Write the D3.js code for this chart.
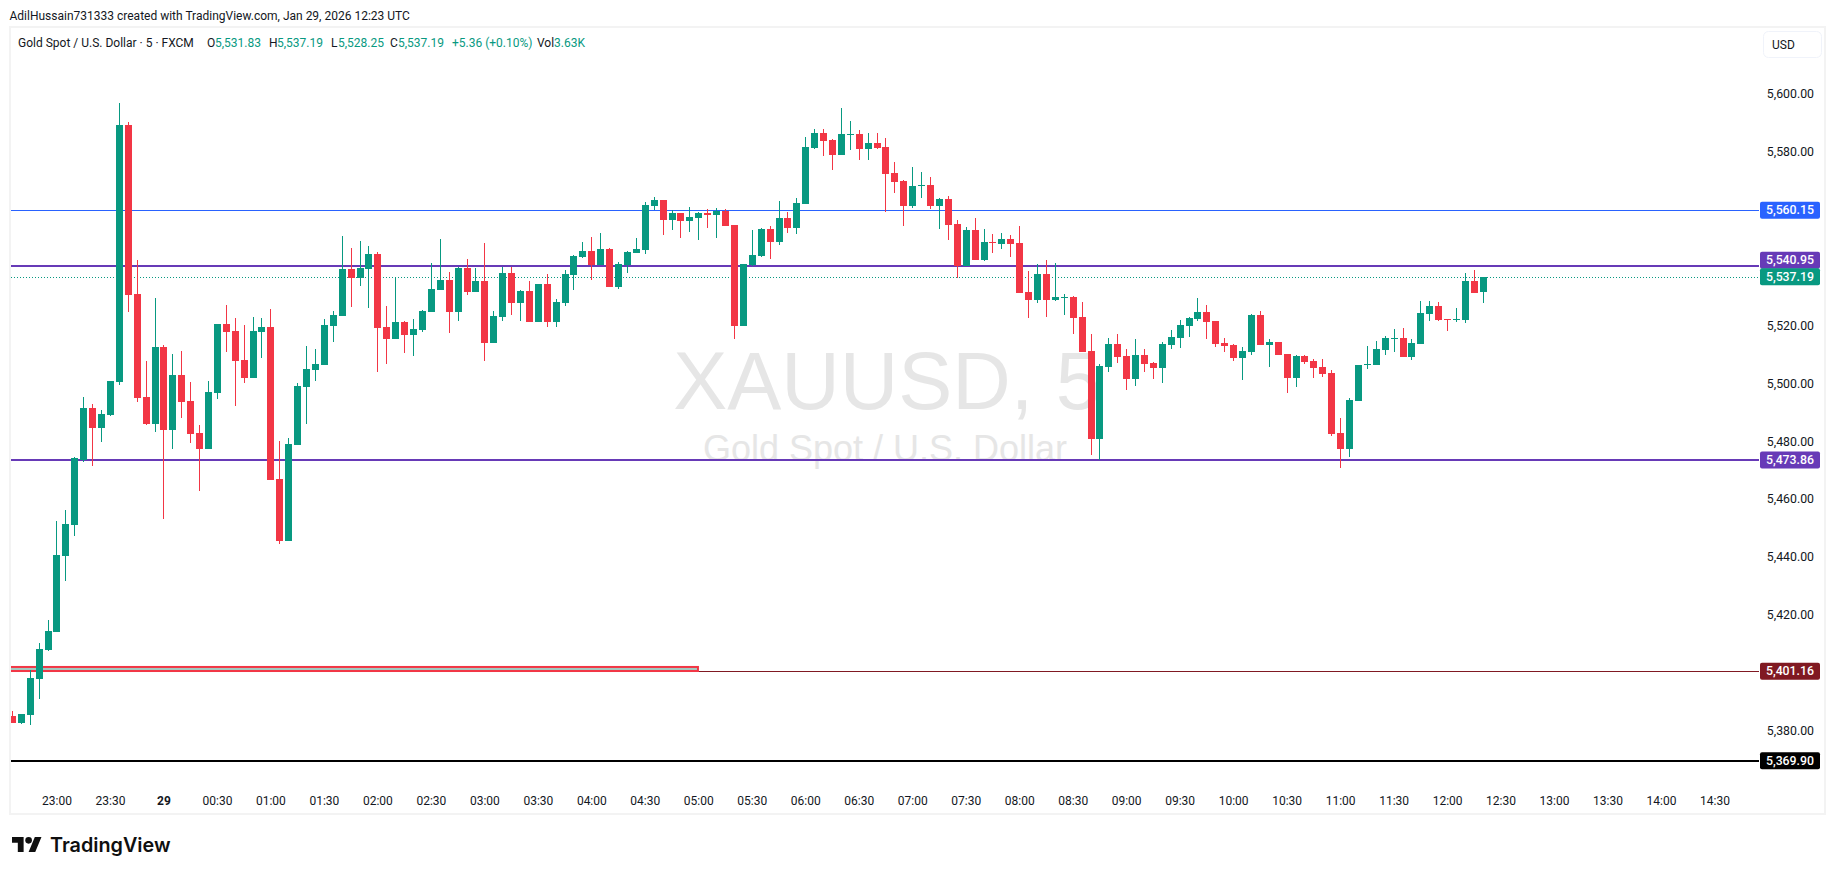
<!DOCTYPE html>
<html>
<head>
<meta charset="utf-8">
<title>XAUUSD, 5</title>
<script src="https://cdn.jsdelivr.net/npm/d3@7"></script>
<style>
  html, body { margin: 0; padding: 0; background: #fff; overflow: hidden; }
  text { font-family: Roboto, sans-serif; }
</style>
</head>
<body>
<svg id="chart" width="1835" height="875"></svg>
<script>
// Data
// ============================================================================

const opens = [
  5385.35,5382.93,5385.69,5398.14,5408.16,5414.38,5440.65,5451.37,5473.84,5491.81,
  5484.9,5489.39,5500.8,5589.63,5531.22,5495.61,5486.28,5512.9,5484.21,5503.22,
  5494.23,5483.17,5477.64,5496.99,5520.85,5518.43,5508.4,5502.18,5518.08,5519.81,
  5467.27,5445.84,5479.02,5499.07,5504.95,5506.67,5520.15,5523.61,5539.85,5536.74,
  5539.85,5545.04,5519.8,5515.66,5521.53,5517.04,5518.77,5524.99,5532.6,5536.05,
  5524.99,5540.2,5531.9,5535.7,5514.27,5523.26,5538.47,5528.1,5532.25,5521.53,
  5534.67,5521.53,5528.1,5537.78,5544.0,5546.07,5541.24,5546.77,5533.63,5541.24,
  5545.38,5546.42,5561.63,5563.7,5556.79,5559.21,5556.44,5557.48,5559.21,5558.52,
  5559.9,5555.06,5520.15,5541.24,5544.35,5553.68,5549.19,5557.48,5554.03,5562.32,
  5581.68,5586.87,5584.45,5579.26,5586.18,5586.52,5581.34,5583.41,5582.0,5573.04,
  5570.28,5561.63,5568.55,5568.89,5561.63,5564.05,5555.41,5540.89,5553.34,5542.97,
  5549.19,5548.5,5550.23,5548.84,5531.91,5529.14,5538.13,5529.14,5529.83,5530.18,
  5523.26,5511.51,5481.09,5505.98,5513.93,5509.78,5501.83,5510.13,5507.36,5505.64,
  5513.59,5516.0,5520.15,5522.57,5525.0,5521.88,5514.28,5513.59,5509.09,5511.17,
  5523.96,5513.59,5514.62,5510.48,5502.18,5509.78,5508.06,5506.0,5503.91,5483.17,
  5477.64,5494.23,5506.68,5506.68,5511.86,5515.66,5516.01,5509.44,5513.93,5524.3,
  5527.07,5522.58,5522.23,5522.23,5535.71,5531.83
];
const highs = [
  5387.08,5386.04,5401.25,5410.58,5418.53,5452.75,5456.55,5474.9,5495.61,5493.19,
  5491.12,5501.14,5597.24,5590.67,5543.0,5508.06,5529.83,5513.59,5510.48,5511.51,
  5500.8,5485.93,5501.14,5520.85,5527.41,5522.92,5520.5,5523.26,5522.92,5526.03,
  5480.4,5481.44,5500.45,5513.24,5512.2,5522.57,5525.33,5551.26,5547.11,5549.53,
  5547.8,5545.73,5527.06,5536.74,5521.88,5522.57,5525.68,5541.93,5550.22,5538.82,
  5540.54,5543.31,5540.2,5548.84,5525.33,5540.54,5540.54,5532.6,5535.7,5534.67,
  5538.12,5529.48,5539.51,5544.69,5549.19,5550.91,5552.3,5547.11,5542.27,5546.07,
  5550.57,5563.01,5564.74,5563.7,5560.25,5559.21,5561.28,5559.56,5560.6,5560.94,
  5560.6,5555.06,5541.58,5553.33,5554.03,5554.72,5563.36,5559.56,5564.39,5585.48,
  5588.25,5588.25,5584.8,5595.5,5591.01,5587.9,5586.87,5586.87,5585.14,5576.84,
  5570.62,5575.12,5573.39,5571.66,5564.4,5565.09,5556.79,5554.38,5557.48,5553.68,
  5551.95,5552.3,5551.61,5554.72,5539.17,5541.58,5542.97,5541.93,5531.21,5530.52,
  5528.45,5517.39,5507.02,5516.0,5517.39,5512.2,5515.66,5512.2,5507.71,5514.62,
  5518.77,5522.23,5523.26,5529.83,5527.41,5521.88,5516.0,5513.93,5512.89,5524.3,
  5525.34,5515.66,5514.62,5510.48,5510.13,5510.13,5508.75,5508.75,5504.95,5488.35,
  5495.27,5506.68,5513.24,5514.97,5516.7,5519.12,5519.47,5515.66,5528.8,5528.8,
  5528.45,5522.58,5526.38,5538.48,5539.51,5537.19
];
const lows = [
  5382.93,5382.58,5382.24,5391.22,5407.82,5414.38,5432.01,5447.57,5473.15,5471.76,
  5480.06,5489.05,5499.76,5524.99,5493.89,5485.93,5483.51,5453.44,5477.64,5488.35,
  5479.71,5463.12,5477.64,5494.92,5511.17,5492.5,5500.45,5502.18,5509.09,5466.92,
  5444.8,5445.84,5479.02,5486.28,5501.14,5506.67,5514.62,5523.61,5526.72,5533.98,
  5526.37,5504.25,5507.01,5515.66,5510.82,5509.78,5518.07,5524.99,5532.6,5517.73,
  5521.88,5530.87,5531.9,5508.05,5514.27,5521.88,5523.95,5521.88,5521.53,5521.53,
  5519.8,5519.8,5527.06,5532.6,5543.66,5536.05,5541.24,5533.63,5532.94,5538.47,
  5545.38,5545.04,5560.25,5551.6,5553.33,5550.57,5552.64,5549.88,5554.03,5550.57,
  5554.72,5515.66,5520.15,5540.89,5544.0,5543.31,5548.15,5552.3,5551.95,5562.32,
  5581.34,5578.92,5574.08,5579.26,5580.99,5577.53,5577.53,5581.34,5559.56,5566.13,
  5554.72,5560.94,5564.4,5560.6,5553.68,5549.88,5536.75,5540.89,5542.97,5542.62,
  5545.39,5546.77,5544.0,5531.56,5522.92,5528.1,5523.26,5528.79,5523.96,5517.39,
  5511.17,5475.56,5473.84,5504.25,5507.36,5498.03,5499.41,5504.25,5501.83,5500.45,
  5512.2,5512.55,5516.35,5521.88,5515.66,5512.89,5511.17,5508.06,5501.49,5510.13,
  5513.59,5505.98,5510.13,5497.0,5499.07,5507.02,5502.18,5502.53,5482.13,5471.07,
  5474.88,5494.23,5505.29,5506.68,5510.13,5511.17,5509.44,5508.4,5513.93,5521.88,
  5521.88,5518.43,5521.54,5521.19,5531.56,5528.25
];
const closes = [
  5382.93,5386.04,5398.48,5408.51,5414.73,5441.0,5451.71,5474.53,5491.81,5484.9,
  5489.74,5501.14,5589.63,5530.87,5495.27,5486.28,5512.9,5484.21,5503.22,5493.89,
  5482.82,5477.64,5497.34,5520.85,5518.08,5508.06,5502.18,5518.43,5519.81,5466.92,
  5445.84,5479.37,5499.42,5505.29,5507.02,5520.5,5523.95,5539.85,5536.74,5540.2,
  5545.04,5519.46,5515.66,5521.53,5517.04,5519.11,5525.33,5532.94,5536.05,5524.99,
  5540.2,5531.9,5535.7,5514.27,5523.61,5538.47,5528.1,5532.25,5521.53,5534.67,
  5521.53,5528.45,5538.12,5544.35,5546.07,5541.24,5546.77,5533.63,5541.58,5545.73,
  5546.77,5561.97,5563.7,5556.79,5559.21,5556.44,5557.83,5559.21,5558.52,5559.9,
  5554.72,5520.15,5541.58,5544.69,5553.68,5549.19,5557.48,5554.03,5562.67,5582.0,
  5586.87,5584.1,5579.26,5586.52,5586.52,5581.34,5583.41,5581.68,5572.69,5569.93,
  5561.63,5568.55,5568.89,5561.63,5564.05,5555.07,5540.89,5553.34,5542.97,5549.19,
  5548.84,5550.23,5548.5,5531.56,5529.14,5538.13,5529.14,5530.18,5530.18,5522.92,
  5511.17,5481.09,5506.33,5513.93,5509.44,5501.83,5510.13,5507.02,5505.64,5513.93,
  5516.35,5520.5,5522.92,5525.0,5521.54,5513.93,5513.24,5509.09,5511.51,5523.96,
  5513.59,5514.62,5510.13,5502.18,5509.78,5507.71,5505.64,5503.57,5482.83,5477.64,
  5494.58,5506.68,5507.02,5512.21,5516.01,5516.01,5509.44,5514.28,5524.65,5527.07,
  5522.23,5522.23,5522.58,5535.71,5531.56,5537.19
];

const priceTicks = [5600, 5580, 5520, 5500, 5480, 5460, 5440, 5420, 5380];
const timeLabels = [
  "23:00","23:30","29","00:30","01:00","01:30","02:00","02:30","03:00","03:30",
  "04:00","04:30","05:00","05:30","06:00","06:30","07:00","07:30","08:00","08:30",
  "09:00","09:30","10:00","10:30","11:00","11:30","12:00","12:30","13:00","13:30",
  "14:00","14:30"
];

const levelPrices = [5560.15, 5540.95, 5473.86, 5401.16, 5369.90];
const levelColors = ["#2962ff", "#673ab7", "#673ab7", "#801922", "#000000"];
const levelWidths = [1, 2, 2, 1, 2];
const levelNudge = [0, 0, 0, 1, 0];
const lastPrice = 5537.19;
const zoneTop = 5402.3, zoneBottom = 5400.9, zoneEndBar = 76.85;

const legendTexts = ["Gold Spot / U.S. Dollar · 5 · FXCM", "O", "5,531.83", "H", "5,537.19", "L", "5,528.25", "C", "5,537.19", "+5.36 (+0.10%)", "Vol", "3.63K"];
const legendX = [18, 207, 215, 269, 277, 331, 338, 390, 398, 452, 537, 554];

// Setup
// ============================================================================

const green = "#089981", red = "#f23645", ink = "#131722";
const svg = d3.select("#chart");
const plotLeft = 11, plotRight = 1759, plotTop = 28, plotBottom = 780;

// one step is one 5 minute bar, 23:00 is bar 5 and labels come every 6 bars
const x = d3.scaleLinear().domain([0, 191]).range([12.9, 1715.5]);
const y = d3.scaleLinear().domain([5369.9, 5600]).range([760.7, 95]);
const barW = 7;
const barLeft = i => Math.floor(x(i) - barW / 2);
// thin lines sit on a pixel centre, 2px lines on a pixel edge
const snapY = (p, w) => Math.round(y(p)) + (w % 2 ? 0.5 : 0);

svg.append("defs").append("clipPath").attr("id", "plot")
  .append("rect")
  .attr("x", plotLeft).attr("y", plotTop)
  .attr("width", plotRight - plotLeft).attr("height", plotBottom - plotTop);

// Frame & Header
// ============================================================================

svg.append("rect")
  .attr("x", 10).attr("y", 27).attr("width", 1815).attr("height", 787)
  .attr("fill", "#fff").attr("stroke", "#f3f3f3").attr("stroke-width", 2);

svg.append("text")
  .attr("x", 9.5).attr("y", 19.5)
  .attr("font-size", 12).attr("fill", ink)
  .text("AdilHussain731333 created with TradingView.com, Jan 29, 2026 12:23 UTC");

svg.append("g").selectAll("text")
  .data(legendTexts)
  .join("text")
  .attr("x", (d, i) => legendX[i])
  .attr("y", 46.5)
  .attr("font-size", 12)
  .attr("fill", (d, i) => (i === 0 || d.length === 1 || d === "Vol") ? ink : green)
  .text(d => d);

// Watermark
// ============================================================================

const mark = svg.append("g").attr("text-anchor", "middle").attr("fill", "#e6e6e6");
mark.append("text").attr("x", 887).attr("y", 409)
  .style("font-family", "'Liberation Sans'").attr("font-size", 81).text("XAUUSD, 5");
mark.append("text").attr("x", 885).attr("y", 460.5)
  .style("font-family", "'Liberation Sans'").attr("font-size", 36).text("Gold Spot / U.S. Dollar");

// Levels
// ============================================================================

const plot = svg.append("g").attr("clip-path", "url(#plot)");

plot.selectAll("line.level")
  .data(levelPrices)
  .join("line")
  .attr("class", "level")
  .attr("x1", plotLeft).attr("x2", plotRight)
  .attr("y1", (d, i) => snapY(d, levelWidths[i]) + levelNudge[i])
  .attr("y2", (d, i) => snapY(d, levelWidths[i]) + levelNudge[i])
  .attr("stroke", (d, i) => levelColors[i])
  .attr("stroke-width", (d, i) => levelWidths[i]);

plot.append("line")
  .attr("x1", plotLeft).attr("x2", plotRight)
  .attr("y1", snapY(lastPrice, 1)).attr("y2", snapY(lastPrice, 1))
  .attr("stroke", green).attr("stroke-width", 1)
  .attr("stroke-dasharray", "1 2");

plot.append("rect")
  .attr("x", 6).attr("y", y(zoneTop))
  .attr("width", x(zoneEndBar) - 6)
  .attr("height", y(zoneBottom) - y(zoneTop))
  .attr("fill", "#a3c9c0").attr("stroke", red).attr("stroke-width", 2);

// Candles
// ============================================================================

const bars = plot.append("g").selectAll("g")
  .data(opens.map((o, i) => i))
  .join("g")
  .attr("fill", i => closes[i] >= opens[i] ? green : red);

bars.append("rect")
  .attr("x", i => barLeft(i) + 3)
  .attr("y", i => Math.round(y(highs[i])))
  .attr("width", 1)
  .attr("height", i => Math.round(y(lows[i])) - Math.round(y(highs[i])));

bars.append("rect")
  .attr("x", barLeft)
  .attr("y", i => Math.round(y(Math.max(opens[i], closes[i]))))
  .attr("width", barW)
  .attr("height", i => Math.max(1, Math.round(y(Math.min(opens[i], closes[i]))) - Math.round(y(Math.max(opens[i], closes[i])))));

// Axes
// ============================================================================

const priceFmt = d3.format(",.2f");

const yAxis = svg.append("g")
  .attr("transform", "translate(1814,0)")
  .call(d3.axisRight(y).tickValues(priceTicks).tickFormat(priceFmt).tickSize(0).tickPadding(0));
yAxis.select(".domain").remove();
yAxis.selectAll("text")
  .attr("text-anchor", "end").attr("dy", "0.32em")
  .attr("transform", "translate(0,-1)")
  .style("font-family", "Roboto").style("font-size", "12.3px").attr("fill", ink);

const xAxis = svg.append("g")
  .attr("transform", "translate(-1,796)")
  .call(d3.axisBottom(x)
    .tickValues(timeLabels.map((d, i) => 5 + i * 6))
    .tickFormat((d, i) => timeLabels[i])
    .tickSize(0).tickPadding(0));
xAxis.select(".domain").remove();
xAxis.selectAll("text")
  .attr("dy", "0.71em")
  .style("font-family", "Roboto").style("font-size", "12px")
  .attr("fill", ink);
xAxis.selectAll("text").filter((d, i) => timeLabels[i] === "29").style("font-weight", 700);

// Price labels
// ============================================================================

const tagPrices = levelPrices.concat([lastPrice]);
const tagColors = levelColors.concat([green]);
const tagNudge = levelNudge.concat([0]);
const tagH = 17;

// the 5,540.95 tag would run into the last price tag, so it is pushed up on top of it
const tagY = (d, i) => d === levelPrices[1]
  ? y(lastPrice) - tagH + 0.5
  : y(d) + tagNudge[i];

const tags = svg.append("g").selectAll("g")
  .data(tagPrices)
  .join("g")
  .attr("transform", (d, i) => `translate(1760,${tagY(d, i)})`);

tags.append("rect")
  .attr("x", 0).attr("y", -tagH / 2).attr("width", 60).attr("height", tagH).attr("rx", 2)
  .attr("fill", (d, i) => tagColors[i]);

tags.append("text")
  .attr("x", 54).attr("y", 0).attr("dy", "0.32em")
  .attr("text-anchor", "end").attr("fill", "#fff")
  .attr("font-size", 12.3).attr("font-weight", 500)
  .text(d => priceFmt(d));

// USD button
// ============================================================================

svg.append("rect")
  .attr("x", 1763.5).attr("y", 31.5).attr("width", 58).attr("height", 26).attr("rx", 5)
  .attr("fill", "#fff").attr("stroke", "#f0f3fa");
svg.append("text")
  .attr("x", 1772).attr("y", 48.5).attr("font-size", 12).attr("fill", ink).text("USD");

// Logo
// ============================================================================

const logo = svg.append("g").attr("transform", "translate(12,833.7) scale(0.83)").attr("fill", "#0f0f0f");
logo.append("path").attr("d", "M14 22H7V11H0V4h14v18zM28 22h-8l7.5-18h8L28 22z");
logo.append("circle").attr("cx", 20).attr("cy", 8).attr("r", 4);

svg.append("text")
  .attr("x", 50).attr("y", 851.5)
  .style("font-family", "Inter").attr("font-size", 19.8).attr("font-weight", 600)
  .attr("fill", "#0f0f0f")
  .text("TradingView");
</script>
</body>
</html>
